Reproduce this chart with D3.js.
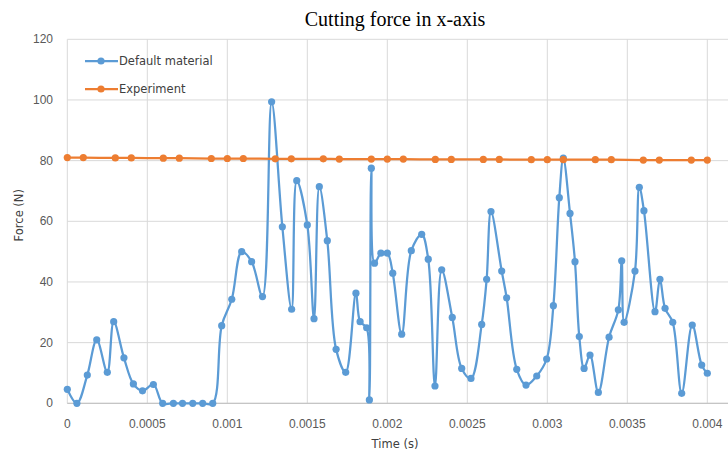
<!DOCTYPE html>
<html>
<head>
<meta charset="utf-8">
<script src="https://cdn.jsdelivr.net/npm/d3@7"></script>
<style>
  body { margin: 0; background: #fff; }
  svg { display: block; }
</style>
</head>
<body>
<div id="chart"></div>
<script>
// Default material (simulation) - time in s, force in N
var simTime = [0, 0.00006, 0.000125, 0.000184, 0.00025, 0.00029, 0.000354, 0.000413, 0.00047, 0.000538,
  0.000596, 0.000663, 0.00072, 0.000784, 0.000846, 0.000909, 0.000965, 0.001028, 0.00109, 0.001152,
  0.00122, 0.001277, 0.001344, 0.001402, 0.001434, 0.0015, 0.001542, 0.001575, 0.001625, 0.00168,
  0.00174, 0.001804, 0.00183, 0.001871, 0.001888, 0.0019, 0.00192, 0.00196, 0.002, 0.002034,
  0.00209, 0.00215, 0.002215, 0.002256, 0.002298, 0.00234, 0.002406, 0.002465, 0.002523, 0.00259,
  0.002621, 0.002648, 0.002715, 0.002746, 0.002809, 0.002867, 0.002934, 0.002996, 0.003038, 0.003075,
  0.0031, 0.003142, 0.003173, 0.0032, 0.00323, 0.003267, 0.003319, 0.003386, 0.003444, 0.003465,
  0.00348, 0.003548, 0.003575, 0.003604, 0.003673, 0.003704, 0.003736, 0.003784, 0.00384, 0.003906,
  0.003965, 0.004];
var simForce = [4.6, 0, 9.3, 20.9, 10.2, 26.9, 15, 6.4, 4.1, 6.2,
  0, 0, 0, 0, 0, 0, 25.6, 34.3, 50, 46.7,
  35.2, 99.4, 58.2, 31, 73.4, 58.8, 27.9, 71.4, 53.6, 17.8,
  10.2, 36.3, 26.9, 24.9, 1.1, 77.5, 46.2, 49.5, 49.5, 42.9,
  22.8, 50.3, 55.7, 47.5, 5.7, 44, 28.3, 11.5, 8.2, 26,
  40.9, 63.2, 43.6, 34.8, 11.2, 6, 9, 14.6, 32.2, 67.8,
  80.8, 62.6, 46.7, 22, 11.5, 15.9, 3.6, 21.8, 30.8, 47,
  26.7, 43.6, 71.2, 63.5, 30.2, 40.9, 31.3, 26.7, 3.3, 25.8,
  12.6, 9.9];

// Experiment
var expTime = [0, 0.0001, 0.0003, 0.0004, 0.0006, 0.0007, 0.0009, 0.001, 0.0011, 0.0013,
  0.0014, 0.0016, 0.0017, 0.0019, 0.002, 0.0021, 0.0023, 0.0024, 0.0026, 0.0027,
  0.0029, 0.003, 0.0031, 0.0033, 0.0034, 0.0036, 0.0037, 0.0039, 0.004];
var expForce = [81.0, 81.0, 80.9, 80.9, 80.8, 80.8, 80.7, 80.7, 80.7, 80.6,
  80.6, 80.6, 80.5, 80.5, 80.5, 80.5, 80.4, 80.4, 80.4, 80.4,
  80.3, 80.3, 80.3, 80.3, 80.3, 80.2, 80.2, 80.2, 80.2];

// gridlines run one step past the last visible label (plot is cropped at the right)
var xGrid = [0, 0.0005, 0.001, 0.0015, 0.002, 0.0025, 0.003, 0.0035, 0.004, 0.0045];
var xTicks = [0, 0.0005, 0.001, 0.0015, 0.002, 0.0025, 0.003, 0.0035, 0.004];
var xTickLabels = ["0", "0.0005", "0.001", "0.0015", "0.002", "0.0025", "0.003", "0.0035", "0.004"];
var yTicks = [0, 20, 40, 60, 80, 100, 120];

var seriesNames = ["Default material", "Experiment"];
var seriesColors = ["#5b9bd5", "#ed7d31"];

var width = 728, height = 454;
var margin = {top: 39.3, left: 67.3, bottom: 50.7};
var plotRight = 787.3;

var svg = d3.select("#chart").append("svg")
    .attr("width", width)
    .attr("height", height);

var x = d3.scaleLinear().domain([0, 0.0045]).range([margin.left, plotRight]);
var y = d3.scaleLinear().domain([0, 120]).range([height - margin.bottom, margin.top]);

// gridlines
svg.append("g")
    .selectAll("line")
    .data(yTicks)
    .join("line")
    .attr("x1", margin.left).attr("x2", plotRight)
    .attr("y1", d => y(d)).attr("y2", d => y(d))
    .attr("stroke", "#d9d9d9").attr("stroke-width", 1);

svg.append("g")
    .selectAll("line")
    .data(xGrid)
    .join("line")
    .attr("x1", d => x(d)).attr("x2", d => x(d))
    .attr("y1", y(0)).attr("y2", y(120))
    .attr("stroke", "#d9d9d9").attr("stroke-width", 1);

// bottom axis line
svg.append("line")
    .attr("x1", margin.left).attr("x2", plotRight)
    .attr("y1", y(0)).attr("y2", y(0))
    .attr("stroke", "#bfbfbf").attr("stroke-width", 1);

// tick labels
svg.append("g")
    .selectAll("text")
    .data(yTicks)
    .join("text")
    .text(d => d)
    .attr("x", 53)
    .attr("y", d => y(d) + 4)
    .attr("text-anchor", "end")
    .attr("font-family", "Liberation Sans, Arial, sans-serif")
    .attr("font-size", 12)
    .attr("fill", "#595959");

svg.append("g")
    .selectAll("text")
    .data(xTicks)
    .join("text")
    .text((d, i) => xTickLabels[i])
    .attr("x", d => x(d))
    .attr("y", 428)
    .attr("text-anchor", "middle")
    .attr("font-family", "Liberation Sans, Arial, sans-serif")
    .attr("font-size", 12)
    .attr("fill", "#595959");

// title & axis titles
svg.append("text")
    .text("Cutting force in x-axis")
    .attr("x", 395)
    .attr("y", 26)
    .attr("text-anchor", "middle")
    .attr("font-family", "Liberation Serif, Times New Roman, serif")
    .attr("font-size", 20)
    .attr("fill", "#000");

svg.append("text")
    .text("Time (s)")
    .attr("x", 395)
    .attr("y", 448)
    .attr("text-anchor", "middle")
    .attr("font-family", "DejaVu Sans, sans-serif")
    .attr("font-size", 11.5)
    .attr("fill", "#404040");

svg.append("text")
    .text("Force (N)")
    .attr("transform", "translate(23," + y(62) + ") rotate(-90)")
    .attr("text-anchor", "middle")
    .attr("font-family", "DejaVu Sans, sans-serif")
    .attr("font-size", 11.5)
    .attr("fill", "#404040");

// series
var series = [
  {name: seriesNames[0], color: seriesColors[0], t: simTime, v: simForce},
  {name: seriesNames[1], color: seriesColors[1], t: expTime, v: expForce}
];

var line = d3.line()
    .x(d => x(d[0]))
    .y(d => y(d[1]))
    .curve(d3.curveCatmullRom.alpha(0.5));

series.forEach(function (s) {
    var pts = s.t.map((t, i) => [t, s.v[i]]);
    svg.append("path")
        .datum(pts)
        .attr("d", line)
        .attr("fill", "none")
        .attr("stroke", s.color)
        .attr("stroke-width", 2.25)
        .attr("stroke-linejoin", "round");
    svg.append("g")
        .selectAll("circle")
        .data(pts)
        .join("circle")
        .attr("cx", d => x(d[0]))
        .attr("cy", d => y(d[1]))
        .attr("r", 3.6)
        .attr("fill", s.color);
});

// legend
var level = 61;
series.forEach(function (s) {
    svg.append("line")
        .attr("x1", 85).attr("x2", 118)
        .attr("y1", level).attr("y2", level)
        .attr("stroke", s.color).attr("stroke-width", 2.25);
    svg.append("circle")
        .attr("cx", 101).attr("cy", level).attr("r", 3.6)
        .attr("fill", s.color);
    svg.append("text")
        .text(s.name)
        .attr("x", 119)
        .attr("y", level + 4)
        .attr("font-family", "DejaVu Sans, sans-serif")
        .attr("font-size", 11.5)
        .attr("fill", "#404040");
    level += 28;
});
</script>
</body>
</html>
